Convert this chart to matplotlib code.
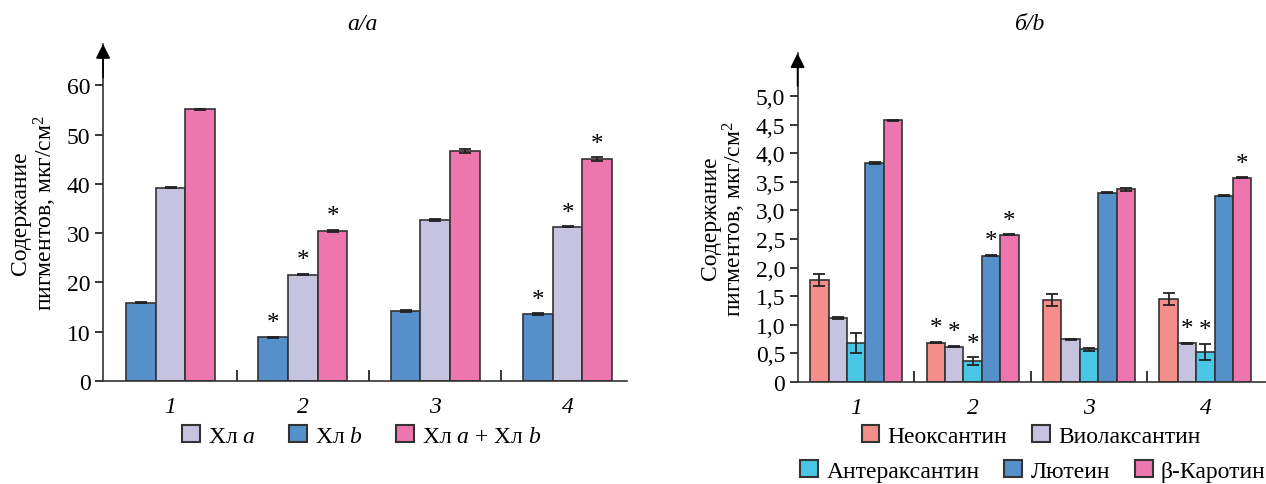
import numpy as np
import matplotlib
matplotlib.use("Agg")
import matplotlib.pyplot as plt
from matplotlib.patches import Patch

plt.rcParams['font.family'] = ['Liberation Serif', 'DejaVu Serif']
plt.rcParams['mathtext.fontset'] = 'custom'
plt.rcParams['mathtext.rm'] = 'Liberation Serif'
plt.rcParams['mathtext.it'] = 'Liberation Serif:italic'

groups = ['1', '2', '3', '4']

# panel a: chlorophylls, ug/cm2
chl_b = [15.9, 8.87, 14.2, 13.5]
chl_a = [39.2, 21.6, 32.7, 31.3]
chl_ab = [55.1, 30.4, 46.7, 45.0]
chl_b_err = [0.15, 0.15, 0.2, 0.2]
chl_a_err = [0.1, 0.15, 0.15, 0.1]
chl_ab_err = [0.15, 0.2, 0.4, 0.4]
chl_star = [[False, True, False, True],
            [False, True, False, True],
            [False, True, False, True]]

# panel b: carotenoids, ug/cm2
neo = [1.79, 0.69, 1.43, 1.46]
vio = [1.12, 0.62, 0.745, 0.68]
ant = [0.69, 0.36, 0.57, 0.53]
lut = [3.83, 2.21, 3.31, 3.26]
car = [4.58, 2.575, 3.37, 3.57]
neo_err = [0.105, 0.01, 0.105, 0.105]
vio_err = [0.015, 0.01, 0.01, 0.01]
ant_err = [0.175, 0.07, 0.03, 0.14]
lut_err = [0.01, 0.015, 0.01, 0.01]
car_err = [0.01, 0.01, 0.03, 0.01]
car_star = [[False, True, False, False],
            [False, True, False, True],
            [False, True, False, True],
            [False, True, False, False],
            [False, True, False, True]]

c_blue = '#5590CA'
c_lav = '#C6C3E1'
c_pink = '#EC76AD'
c_salmon = '#F38E8A'
c_cyan = '#49C6E6'
edge = '#333333'
FS = 17

fig = plt.figure(figsize=(12.66, 4.85), dpi=100)
ax1 = fig.add_axes([0.0814, 0.2124, 0.414, 0.695])
ax2 = fig.add_axes([0.630, 0.2103, 0.370, 0.678])

def style(ax, ymax, ticks, labels, xmin, xmax):
    ax.set_ylim(0, ymax)
    ax.set_xlim(xmin, xmax)
    for s in ['top', 'right']:
        ax.spines[s].set_visible(False)
    for s in ['left', 'bottom']:
        ax.spines[s].set_color('#333333')
        ax.spines[s].set_linewidth(1.2)
    ax.set_yticks(ticks)
    ax.set_yticklabels(labels, fontsize=FS)
    ax.tick_params(axis='y', direction='out', length=6, width=1.1, pad=3)
    ax.set_xticks([0.5, 1.5, 2.5], minor=False)
    ax.set_xticklabels([])
    ax.tick_params(axis='x', direction='in', length=8, width=1.1)
    for i, g in enumerate(groups):
        ax.text(i, -0.045, g, transform=ax.get_xaxis_transform(), ha='center', va='top',
                fontsize=FS, style='italic')
    ax.annotate('', xy=(0, 1.0), xycoords='axes fraction', xytext=(0, 0.9),
                arrowprops=dict(arrowstyle='-|>', color='black', lw=1.2,
                                mutation_scale=22, shrinkA=0, shrinkB=0))
    ax.set_ylabel('Содержание\nпигментов, мкг/см$^2$', fontsize=FS, linespacing=1.0)

def bars(ax, series, errs, colors, stars, width, off_step):
    x = np.arange(len(groups))
    n = len(series)
    for k in range(n):
        pos = x + (k - (n - 1) / 2) * off_step
        ax.bar(pos, series[k], width, color=colors[k], edgecolor=edge, linewidth=1.2,
               yerr=errs[k], capsize=4, error_kw=dict(ecolor='#222222', elinewidth=1.3, capthick=1.3))
        ymax = ax.get_ylim()[1]
        for i in range(len(groups)):
            if stars[k][i]:
                ax.text(pos[i], series[k][i] + errs[k][i] + ymax * 0.008, '*', ha='center',
                        va='bottom', fontsize=18)

# panel a
style(ax1, 68.4, [0, 10, 20, 30, 40, 50, 60], ['0', '10', '20', '30', '40', '50', '60'], -0.51, 3.45)
bars(ax1, [chl_b, chl_a, chl_ab], [chl_b_err, chl_a_err, chl_ab_err],
     [c_blue, c_lav, c_pink], chl_star, 0.224, 0.224)
ax1.yaxis.set_label_coords(-0.085, 0.5)
fig.text(362 / 1266, 1 - 24 / 485, 'а/a', ha='center', va='center', fontsize=FS, style='italic')

# panel b
yt = [0, 0.5, 1.0, 1.5, 2.0, 2.5, 3.0, 3.5, 4.0, 4.5, 5.0]
ytl = ['0'] + [('%.1f' % v).replace('.', ',') for v in yt[1:]]
style(ax2, 5.75, yt, ytl, -0.503, 3.52)
bars(ax2, [neo, vio, ant, lut, car], [neo_err, vio_err, ant_err, lut_err, car_err],
     [c_salmon, c_lav, c_cyan, c_blue, c_pink], car_star, 0.158, 0.158)
ax2.yaxis.set_label_coords(-0.105, 0.5)
fig.text(1030 / 1266, 1 - 24 / 485, 'б/b', ha='center', va='center', fontsize=FS, style='italic')

def handle(c):
    return Patch(facecolor=c, edgecolor=edge, linewidth=1.5)

leg_kw = dict(frameon=False, fontsize=FS, handlelength=0.76, handleheight=0.76,
              handletextpad=0.34, borderaxespad=0, borderpad=0)
fig.legend([handle(c_lav), handle(c_blue), handle(c_pink)],
           ['Хл $a$', 'Хл $b$', 'Хл $a$ + Хл $b$'], loc='center',
           bbox_to_anchor=(362 / 1266, 1 - 437 / 485), ncol=3, columnspacing=1.4, **leg_kw)
fig.legend([handle(c_salmon), handle(c_lav)], ['Неоксантин', 'Виолаксантин'], loc='center',
           bbox_to_anchor=(1031 / 1266, 1 - 437 / 485), ncol=2, columnspacing=1.06, **leg_kw)
fig.legend([handle(c_cyan), handle(c_blue), handle(c_pink)],
           ['Антераксантин', 'Лютеин', 'β-Каротин'], loc='center',
           bbox_to_anchor=(1033 / 1266, 1 - 472 / 485), ncol=3, columnspacing=1.06, **leg_kw)

fig.savefig('out.png', dpi=100)
